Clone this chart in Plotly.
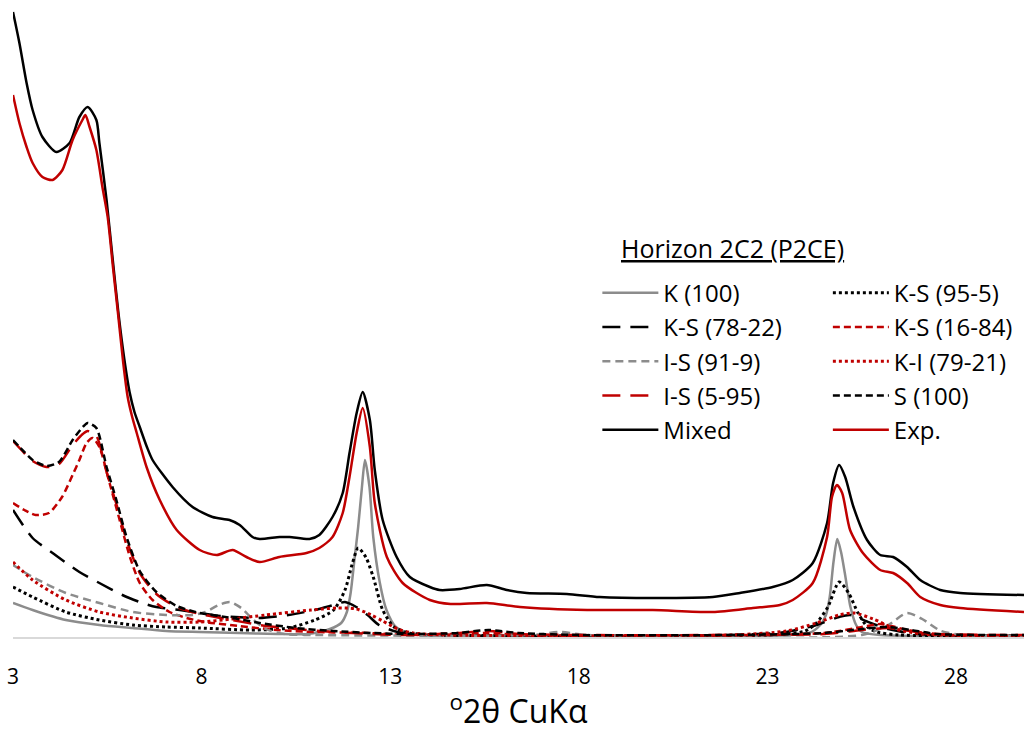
import plotly.graph_objects as go

# ---------------- data ----------------
k100_x = [3.0, 3.52, 4.4, 5.29, 6.17, 7.06, 7.95, 9.0, 10.0, 10.8, 11.4, 11.7, 11.85, 11.95, 12.05, 12.15,
          12.25, 12.33, 12.45, 12.55, 12.72, 12.9, 13.15, 13.5, 14.0, 18.0, 22.0, 24.1, 24.4, 24.55, 24.65,
          24.75, 24.85, 24.95, 25.05, 25.2, 25.35, 25.5, 26.0, 29.8]
k100_y = [34, 27, 17, 12, 9, 6, 5, 4, 3, 3, 8, 14, 25, 44, 77, 110,
          150, 177, 150, 100, 55, 27, 10, 4, 2, 1, 1, 4, 12, 22, 40,
          75, 98, 85, 64, 30, 12, 5, 2, 1]

ks95_x = [3.0, 3.52, 4.4, 5.29, 6.17, 7.06, 7.95, 9.3, 10.3, 11.0, 11.5, 11.8, 12.0, 12.15, 12.35, 12.55,
          12.8, 13.1, 13.5, 14.5, 22.0, 23.5, 24.0, 24.3, 24.6, 24.9, 25.15, 25.4, 25.65, 25.9, 26.5, 29.8]
ks95_y = [50, 40, 25, 17, 12, 10, 9, 7, 9, 17, 27, 47, 74, 89, 80, 60,
          27, 10, 4, 2, 1, 3, 6, 14, 30, 55, 44, 24, 10, 5, 2, 1]

ks78_x = [3.0, 3.52, 4.05, 4.76, 5.29, 5.9, 6.43, 6.8, 7.42, 7.95, 8.5, 9.5, 10.3, 11.0, 11.5, 11.8,
          12.1, 12.4, 12.7, 13.2, 14.0, 16.0, 22.0, 23.5, 24.3, 24.9, 25.2, 25.6, 26.2, 27.0, 29.8]
ks78_y = [127, 99, 84, 65, 54, 42, 34, 30, 27, 24, 21, 19, 22, 27, 32, 35,
          30, 22, 12, 5, 2, 1, 2, 5, 12, 20, 22, 16, 8, 3, 1]

ks16_x = [3.0, 3.3, 3.6, 3.95, 4.3, 4.58, 4.76, 4.95, 5.11, 5.29, 5.56, 5.82, 6.1, 6.36, 6.7, 7.15,
          7.6, 8.1, 9.0, 10.0, 11.0, 12.4, 13.5, 15.5, 16.5, 20.0, 24.5, 25.5, 26.0, 26.6, 27.3, 29.8]
ks16_y = [134, 127, 122, 124, 140, 162, 177, 194, 199, 190, 154, 118, 80, 54, 37, 25,
          19, 15, 11, 7, 5, 4, 2, 4, 2, 1, 4, 10, 13, 8, 3, 1]

is91_x = [3.0, 3.52, 4.4, 5.29, 6.17, 7.06, 7.76, 8.1, 8.45, 8.75, 9.05, 9.35, 9.7, 10.2, 11.0, 16.8,
          17.5, 18.2, 25.5, 26.2, 26.7, 27.1, 27.6, 28.2, 29.8]
is91_y = [72, 60, 44, 34, 25, 22, 22, 25, 32, 35, 29, 18, 8, 3, 2, 2,
          5, 2, 2, 12, 24, 18, 6, 2, 1]

ki79_x = [3.0, 3.52, 4.4, 5.29, 6.17, 7.06, 7.95, 8.8, 9.7, 10.9, 11.6, 12.1, 12.5, 12.8, 13.2, 13.6,
          14.5, 22.0, 23.5, 24.3, 24.9, 25.3, 25.8, 26.4, 27.1, 29.8]
ki79_y = [75, 57, 37, 25, 19, 15, 15, 18, 22, 27, 29, 28, 22, 16, 8, 4,
          2, 2, 6, 14, 22, 24, 18, 8, 3, 1]

is5_x = [3.0, 3.3, 3.52, 3.89, 4.22, 4.58, 4.85, 4.98, 5.21, 5.48, 5.74, 6.01, 6.36, 6.8, 7.34, 7.95,
         8.82, 9.54, 10.5, 11.5, 12.5, 13.5, 14.8, 15.6, 16.4, 18.0, 22.0, 24.5, 25.5, 26.2, 26.8, 27.5, 29.8]
is5_y = [196, 184, 176, 170, 173, 192, 203, 206, 201, 165, 133, 97, 64, 43, 30, 23,
         17, 12, 8, 5, 3, 2, 4, 6, 3, 2, 2, 3, 7, 9, 6, 3, 2]

s100_x = [3.0, 3.3, 3.52, 3.89, 4.22, 4.58, 4.85, 4.98, 5.21, 5.48, 5.74, 6.01, 6.36, 6.8, 7.34, 7.95,
          8.82, 9.54, 10.5, 11.5, 12.5, 13.5, 14.8, 15.6, 16.4, 18.0, 22.0, 24.5, 25.5, 26.2, 26.8, 27.5, 29.8]
s100_y = [197, 185, 177, 171, 175, 197, 210, 214, 209, 170, 137, 100, 66, 45, 31, 24,
          19, 14, 9, 6, 4, 3, 4, 7, 4, 2, 2, 4, 8, 10, 7, 3, 2]

mixed_x = [3.0, 3.17, 3.36, 3.52, 3.78, 4.15, 4.5, 4.76, 4.98, 5.21, 5.29, 5.48, 5.65, 5.8, 5.95, 6.09,
           6.22, 6.36, 6.55, 6.7, 7.23, 7.76, 8.29, 8.74, 9.01, 9.35, 9.54, 10.07, 10.33, 10.86, 11.12,
           11.47, 11.74, 11.92, 12.11, 12.27, 12.46, 12.59, 12.8, 13.17, 13.52, 14.05, 14.31, 14.84,
           15.56, 16.09, 16.62, 17.68, 18.55, 19.96, 21.55, 22.27, 23.14, 23.67, 24.2, 24.58, 24.74,
           24.9, 25.06, 25.28, 25.64, 25.99, 26.33, 26.7, 27.05, 27.58, 28.11, 29.8]
mixed_y = [625, 594, 554, 527, 500, 485, 494, 520, 530, 517, 494, 437, 375, 322, 278, 245,
           225, 210, 190, 177, 150, 130, 120, 117, 112, 100, 98, 100, 100, 98, 102,
           120, 144, 184, 224, 245, 217, 167, 117, 80, 60, 50, 47, 48,
           52, 47, 44, 43, 40, 39, 40, 44, 50, 57, 74, 114, 154,
           172, 160, 130, 97, 82, 80, 70, 57, 47, 44, 42]

exp_x = [3.0, 3.17, 3.36, 3.52, 3.78, 4.05, 4.31, 4.58, 4.84, 4.92, 5.03, 5.21, 5.37, 5.51, 5.65, 5.78,
         5.92, 6.04, 6.16, 6.28, 6.54, 6.89, 7.34, 7.95, 8.4, 8.82, 9.19, 9.54, 10.06, 10.78, 11.12,
         11.47, 11.74, 11.92, 12.11, 12.27, 12.46, 12.59, 12.91, 13.33, 14.05, 14.6, 15.56, 16.44, 18.22,
         19.96, 21.55, 22.61, 23.33, 23.67, 24.2, 24.58, 24.71, 24.84, 24.98, 25.19, 25.53, 25.99, 26.33,
         26.7, 27.05, 27.58, 28.11, 29.8]
exp_y = [542, 514, 490, 474, 460, 457, 467, 497, 517, 522, 510, 487, 450, 420, 370, 325,
         275, 240, 220, 204, 170, 137, 107, 87, 82, 87, 80, 75, 80, 84, 89,
         100, 124, 160, 204, 229, 190, 134, 80, 54, 37, 33, 34, 30, 27,
         27, 25, 29, 32, 37, 54, 100, 140, 152, 144, 107, 84, 67, 64,
         54, 40, 32, 29, 25]

tick_vals = [3, 8, 13, 18, 23, 28]

# ---------------- styling ----------------
GRAY = "#8c8c8c"
RED = "#c00000"
BLACK = "#000000"
FONT = "Open Sans"

series = [
    ("K (100)", k100_x, k100_y, GRAY, "solid", 2.5, "legend"),
    ("K-S (95-5)", ks95_x, ks95_y, BLACK, "dot", 3, "legend2"),
    ("K-S (78-22)", ks78_x, ks78_y, BLACK, "18px,10px", 2.5, "legend"),
    ("K-S (16-84)", ks16_x, ks16_y, RED, "7px,4px", 2.5, "legend2"),
    ("I-S (91-9)", is91_x, is91_y, GRAY, "8px,5px", 2.5, "legend"),
    ("K-I (79-21)", ki79_x, ki79_y, RED, "dot", 3, "legend2"),
    ("I-S (5-95)", is5_x, is5_y, RED, "18px,10px", 2.5, "legend"),
    ("S (100)", s100_x, s100_y, BLACK, "7px,4px", 2.5, "legend2"),
    ("Mixed", mixed_x, mixed_y, BLACK, "solid", 2.5, "legend"),
    ("Exp.", exp_x, exp_y, RED, "solid", 2.5, "legend2"),
]

fig = go.Figure()
for name, xs, ys, col, dash, w, leg in series:
    fig.add_trace(go.Scatter(
        x=xs, y=ys, name=name, mode="lines",
        line=dict(color=col, dash=dash, width=w, shape="spline", smoothing=0.7),
        legend=leg, legendgroup=name, hoverinfo="skip",
    ))

legend_common = dict(
    font=dict(family=FONT, size=24, color="#000000"),
    bgcolor="rgba(0,0,0,0)", borderwidth=0,
    traceorder="grouped", tracegroupgap=0,
    itemwidth=56, xanchor="left", yanchor="top",
)

fig.update_layout(
    width=1024, height=732,
    margin=dict(l=13, r=0, t=0, b=95, autoexpand=False),
    paper_bgcolor="white", plot_bgcolor="white",
    font=dict(family=FONT, color="#000000"),
    showlegend=True,
    legend=dict(x=0.578, y=0.575, **legend_common),
    legend2=dict(x=0.806, y=0.575, **legend_common),
    xaxis=dict(
        range=[3, 29.8], tickvals=tick_vals, ticktext=[str(v) for v in tick_vals],
        showgrid=False, zeroline=False, showline=True, linecolor="#d9d9d9", linewidth=1.5,
        ticks="", ticklabelstandoff=20, automargin=False,
        tickfont=dict(family=FONT, size=21, color="#000000"),
        title=dict(text="<sup>o</sup>2θ CuKα", font=dict(family=FONT, size=32, color="#000000"), standoff=4),
    ),
    yaxis=dict(range=[0, 637], visible=False, fixedrange=True),
    annotations=[dict(
        text="<u>Horizon 2C2 (P2CE)</u>", xref="paper", yref="paper",
        x=0.599, y=1 - 248 / 637, xanchor="left", yanchor="middle", showarrow=False,
        font=dict(family=FONT, size=25, color="#000000"),
    )],
)

fig.write_html("out.html")
